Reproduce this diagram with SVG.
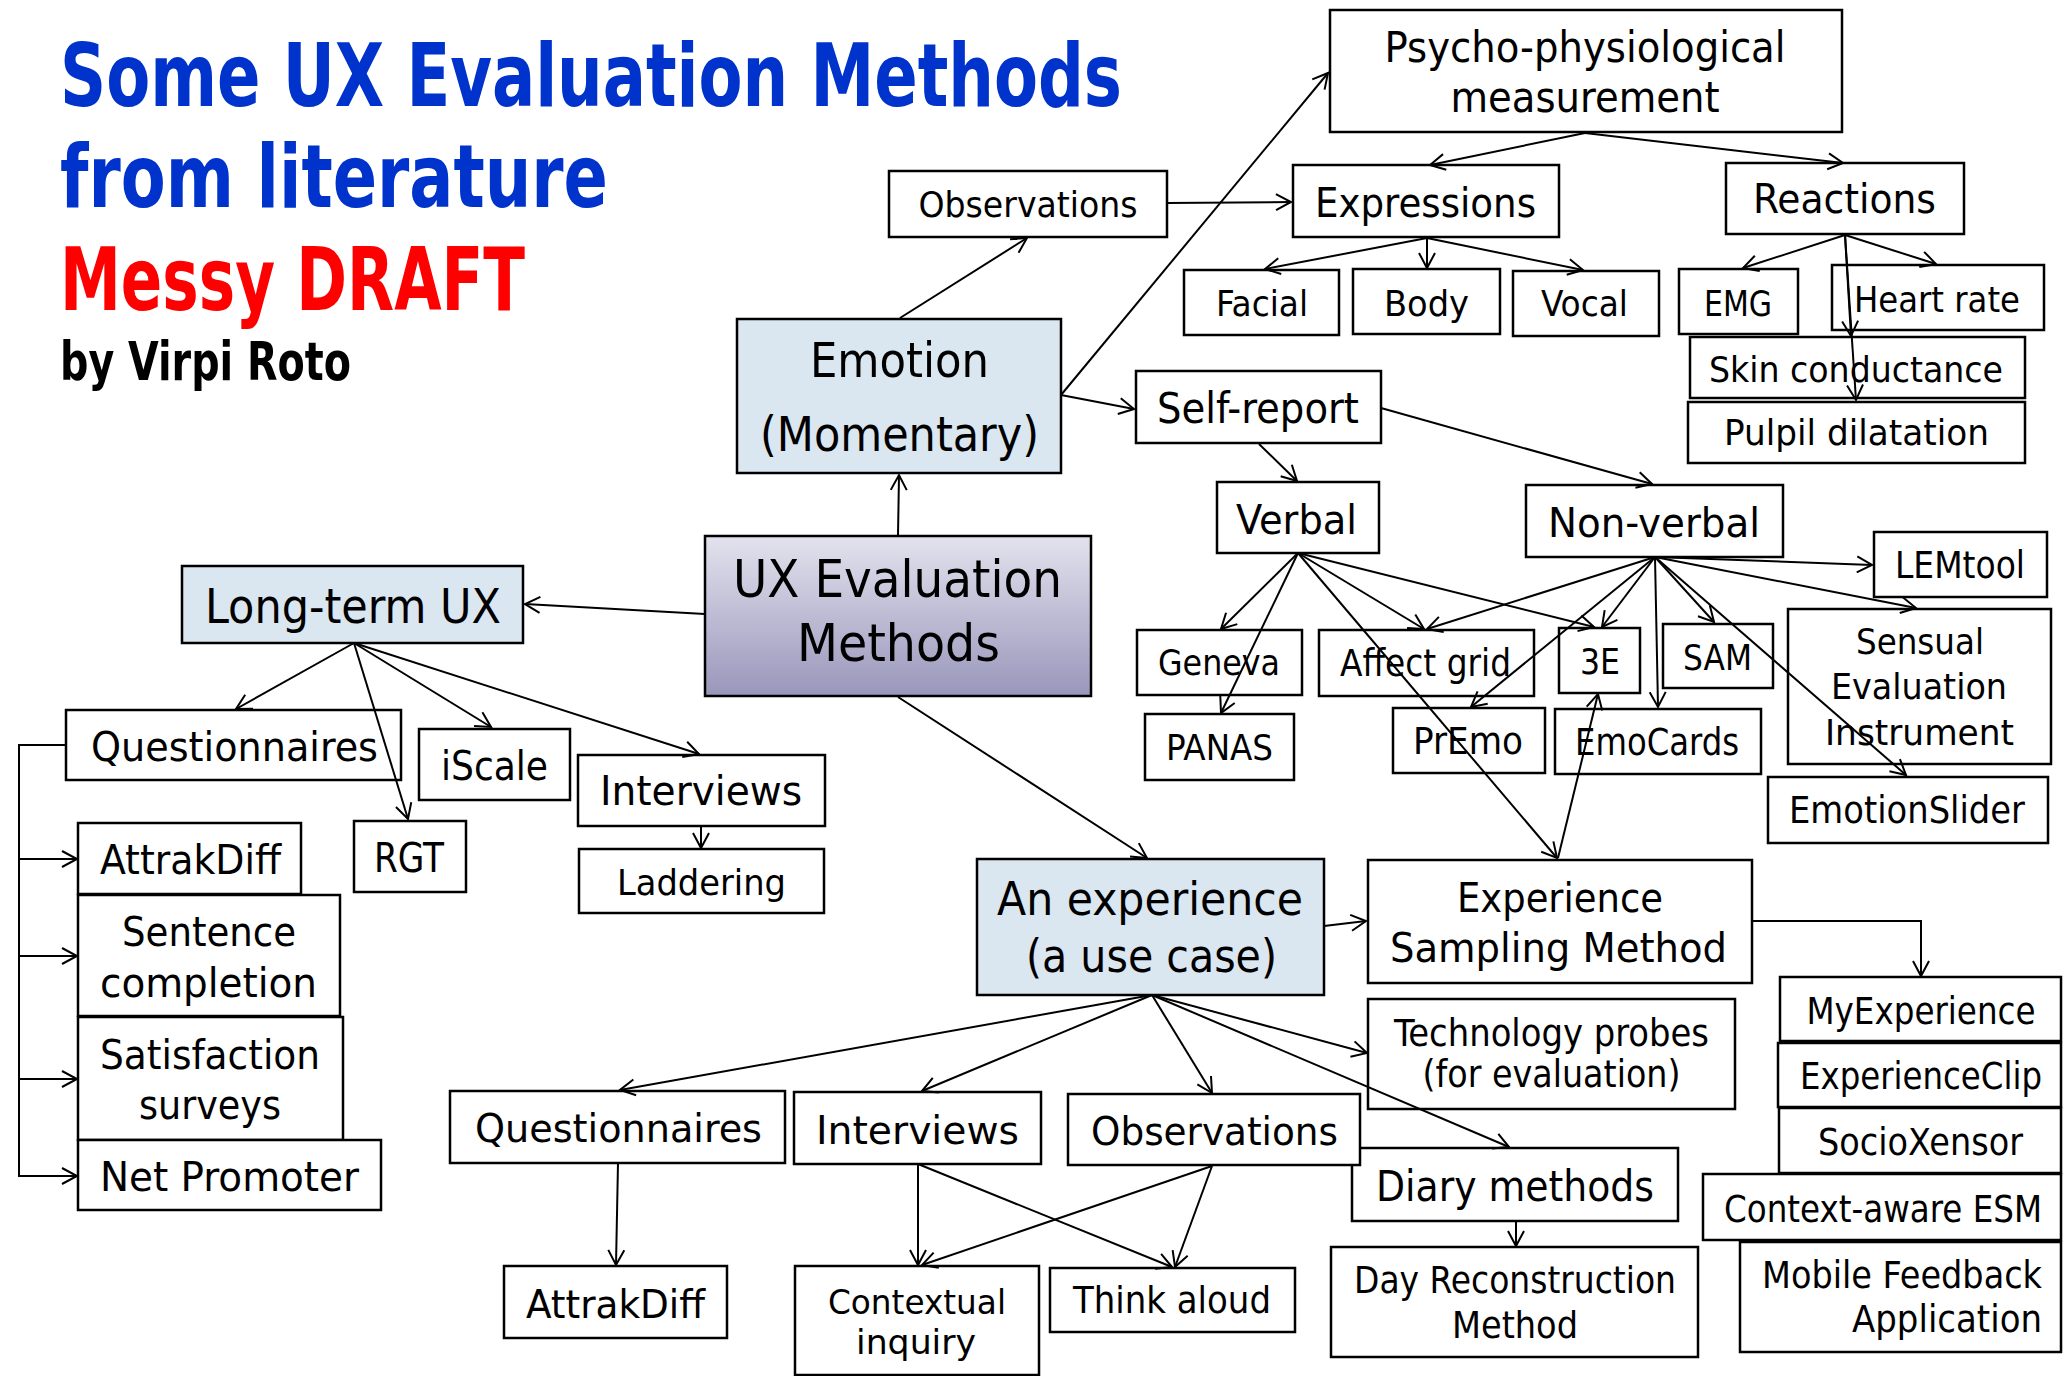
<svg xmlns="http://www.w3.org/2000/svg" width="2063" height="1376" viewBox="0 0 2063 1376">
<style>
rect{fill:#fff;stroke:#000;stroke-width:2.5}
rect.lb{fill:#dae6f0}
text{font-family:"Liberation Sans Narrow","DejaVu Sans Condensed","Liberation Sans",sans-serif;fill:#000;text-anchor:middle}
text.h{font-weight:bold;text-anchor:start}
#connectors path{fill:none;stroke:#000;stroke-width:2;marker-end:url(#ar)}
</style>
<defs>
<marker id="ar" markerUnits="userSpaceOnUse" markerWidth="26" markerHeight="26" viewBox="-20 -13 26 26" refX="0" refY="0" orient="auto" overflow="visible">
<path d="M-15,-8 L0,0 L-15,8" fill="none" stroke="#000" stroke-width="2"/>
</marker>
<linearGradient id="g" x1="0" y1="0" x2="0" y2="1">
<stop offset="0" stop-color="#e3e2ed"/>
<stop offset="1" stop-color="#9996bb"/>
</linearGradient>
</defs>
<rect x="0" y="0" width="2063" height="1376" style="fill:#fff;stroke:none"/>
<g id="title">
<text class="h" x="60" y="106" font-size="88" style="fill:#0033cc" textLength="1062" lengthAdjust="spacingAndGlyphs">Some UX Evaluation Methods</text>
<text class="h" x="60" y="207" font-size="88" style="fill:#0033cc" textLength="548" lengthAdjust="spacingAndGlyphs">from literature</text>
<text class="h" x="60" y="310" font-size="88" style="fill:#ff0000" textLength="465" lengthAdjust="spacingAndGlyphs">Messy DRAFT</text>
<text class="h" x="60" y="380" font-size="54" textLength="291" lengthAdjust="spacingAndGlyphs">by Virpi Roto</text>
</g>
<g id="psycho"><rect x="1330" y="10" width="512" height="122"/><text x="1585" y="62" font-size="42" textLength="401" lengthAdjust="spacingAndGlyphs">Psycho-physiological</text><text x="1585" y="112" font-size="42" textLength="269" lengthAdjust="spacingAndGlyphs">measurement</text></g>
<g id="obsTop"><rect x="889" y="171" width="278" height="66"/><text x="1028" y="217" font-size="35" textLength="219" lengthAdjust="spacingAndGlyphs">Observations</text></g>
<g id="expressions"><rect x="1293" y="165" width="266" height="72"/><text x="1425.5" y="217" font-size="41" textLength="221" lengthAdjust="spacingAndGlyphs">Expressions</text></g>
<g id="reactions"><rect x="1726" y="163" width="238" height="71"/><text x="1844.5" y="213" font-size="41" textLength="183" lengthAdjust="spacingAndGlyphs">Reactions</text></g>
<g id="facial"><rect x="1184" y="270" width="155" height="65"/><text x="1262" y="316" font-size="36" textLength="92" lengthAdjust="spacingAndGlyphs">Facial</text></g>
<g id="body"><rect x="1353" y="269" width="147" height="65"/><text x="1426.5" y="316" font-size="36" textLength="85" lengthAdjust="spacingAndGlyphs">Body</text></g>
<g id="vocal"><rect x="1513" y="271" width="146" height="65"/><text x="1584.5" y="316" font-size="36" textLength="87" lengthAdjust="spacingAndGlyphs">Vocal</text></g>
<g id="emg"><rect x="1679" y="269" width="119" height="65"/><text x="1738" y="316" font-size="36" textLength="68" lengthAdjust="spacingAndGlyphs">EMG</text></g>
<g id="heartrate"><rect x="1832" y="265" width="212" height="65"/><text x="1937" y="312" font-size="36" textLength="166" lengthAdjust="spacingAndGlyphs">Heart rate</text></g>
<g id="skin"><rect x="1690" y="337" width="335" height="61"/><text x="1856" y="382" font-size="36" textLength="294" lengthAdjust="spacingAndGlyphs">Skin conductance</text></g>
<g id="pulpil"><rect x="1688" y="402" width="337" height="61"/><text x="1856.5" y="445" font-size="36" textLength="265" lengthAdjust="spacingAndGlyphs">Pulpil dilatation</text></g>
<g id="selfreport"><rect x="1136" y="371" width="245" height="72"/><text x="1258" y="423" font-size="42" textLength="202" lengthAdjust="spacingAndGlyphs">Self-report</text></g>
<g id="emotion"><rect class="lb" x="737" y="319" width="324" height="154"/><text x="899.5" y="377" font-size="48" textLength="179" lengthAdjust="spacingAndGlyphs">Emotion</text><text x="899.5" y="451" font-size="48" textLength="279" lengthAdjust="spacingAndGlyphs">(Momentary)</text></g>
<g id="uxeval"><rect x="705" y="536" width="386" height="160" style="fill:url(#g)"/><text x="897.5" y="597" font-size="52" textLength="329" lengthAdjust="spacingAndGlyphs">UX Evaluation</text><text x="898.5" y="661" font-size="52" textLength="203" lengthAdjust="spacingAndGlyphs">Methods</text></g>
<g id="verbal"><rect x="1217" y="482" width="162" height="71"/><text x="1296.5" y="534" font-size="40" textLength="121" lengthAdjust="spacingAndGlyphs">Verbal</text></g>
<g id="geneva"><rect x="1137" y="630" width="165" height="65"/><text x="1219" y="675" font-size="36" textLength="122" lengthAdjust="spacingAndGlyphs">Geneva</text></g>
<g id="panas"><rect x="1145" y="714" width="149" height="66"/><text x="1219.5" y="760" font-size="36" textLength="107" lengthAdjust="spacingAndGlyphs">PANAS</text></g>
<g id="longterm"><rect class="lb" x="182" y="566" width="341" height="77"/><text x="353" y="623" font-size="48" textLength="296" lengthAdjust="spacingAndGlyphs">Long-term UX</text></g>
<g id="qLeft"><rect x="66" y="710" width="335" height="70"/><text x="234.5" y="761" font-size="41" textLength="287" lengthAdjust="spacingAndGlyphs">Questionnaires</text></g>
<g id="iscale"><rect x="419" y="729" width="151" height="71"/><text x="494.5" y="780" font-size="40" textLength="107" lengthAdjust="spacingAndGlyphs">iScale</text></g>
<g id="intTop"><rect x="578" y="755" width="247" height="71"/><text x="701" y="805" font-size="40" textLength="202" lengthAdjust="spacingAndGlyphs">Interviews</text></g>
<g id="laddering"><rect x="579" y="849" width="245" height="64"/><text x="701.5" y="895" font-size="35" textLength="169" lengthAdjust="spacingAndGlyphs">Laddering</text></g>
<g id="rgt"><rect x="354" y="821" width="112" height="71"/><text x="409" y="872" font-size="41" textLength="70" lengthAdjust="spacingAndGlyphs">RGT</text></g>
<g id="attrakLeft"><rect x="78" y="823" width="223" height="71"/><text x="190.5" y="874" font-size="40" textLength="181" lengthAdjust="spacingAndGlyphs">AttrakDiff</text></g>
<g id="sentence"><rect x="78" y="895" width="262" height="121"/><text x="209" y="946" font-size="40" textLength="174" lengthAdjust="spacingAndGlyphs">Sentence</text><text x="208.5" y="997" font-size="40" textLength="217" lengthAdjust="spacingAndGlyphs">completion</text></g>
<g id="satisfaction"><rect x="78" y="1017" width="265" height="123"/><text x="210" y="1069" font-size="40" textLength="220" lengthAdjust="spacingAndGlyphs">Satisfaction</text><text x="210" y="1119" font-size="40" textLength="142" lengthAdjust="spacingAndGlyphs">surveys</text></g>
<g id="netpromoter"><rect x="78" y="1140" width="303" height="70"/><text x="229.5" y="1191" font-size="41" textLength="259" lengthAdjust="spacingAndGlyphs">Net Promoter</text></g>
<g id="nonverbal"><rect x="1526" y="485" width="257" height="72"/><text x="1654" y="537" font-size="40" textLength="212" lengthAdjust="spacingAndGlyphs">Non-verbal</text></g>
<g id="lemtool"><rect x="1874" y="532" width="173" height="65"/><text x="1960" y="578" font-size="37" textLength="130" lengthAdjust="spacingAndGlyphs">LEMtool</text></g>
<g id="sensual"><rect x="1788" y="609" width="263" height="155"/><text x="1920" y="654" font-size="36" textLength="128" lengthAdjust="spacingAndGlyphs">Sensual</text><text x="1919" y="699" font-size="36" textLength="176" lengthAdjust="spacingAndGlyphs">Evaluation</text><text x="1919.5" y="745" font-size="36" textLength="189" lengthAdjust="spacingAndGlyphs">Instrument</text></g>
<g id="emotionslider"><rect x="1768" y="777" width="280" height="66"/><text x="1907" y="823" font-size="37" textLength="236" lengthAdjust="spacingAndGlyphs">EmotionSlider</text></g>
<g id="sam"><rect x="1663" y="624" width="110" height="64"/><text x="1717.5" y="670" font-size="36" textLength="69" lengthAdjust="spacingAndGlyphs">SAM</text></g>
<g id="e3"><rect x="1559" y="628" width="81" height="65"/><text x="1600" y="674" font-size="36" textLength="40" lengthAdjust="spacingAndGlyphs">3E</text></g>
<g id="affectgrid"><rect x="1319" y="630" width="215" height="66"/><text x="1425.5" y="676" font-size="37" textLength="171" lengthAdjust="spacingAndGlyphs">Affect grid</text></g>
<g id="premo"><rect x="1393" y="708" width="152" height="65"/><text x="1468" y="754" font-size="37" textLength="110" lengthAdjust="spacingAndGlyphs">PrEmo</text></g>
<g id="emocards"><rect x="1555" y="709" width="206" height="65"/><text x="1657" y="755" font-size="37" textLength="164" lengthAdjust="spacingAndGlyphs">EmoCards</text></g>
<g id="esm"><rect x="1368" y="860" width="384" height="123"/><text x="1560" y="912" font-size="40" textLength="206" lengthAdjust="spacingAndGlyphs">Experience</text><text x="1558.5" y="962" font-size="40" textLength="337" lengthAdjust="spacingAndGlyphs">Sampling Method</text></g>
<g id="techprobes"><rect x="1368" y="999" width="367" height="110"/><text x="1551.5" y="1046" font-size="37" textLength="315" lengthAdjust="spacingAndGlyphs">Technology probes</text><text x="1551.5" y="1087" font-size="37" textLength="258" lengthAdjust="spacingAndGlyphs">(for evaluation)</text></g>
<g id="diary"><rect x="1352" y="1148" width="326" height="73"/><text x="1515" y="1201" font-size="42" textLength="278" lengthAdjust="spacingAndGlyphs">Diary methods</text></g>
<g id="drm"><rect x="1331" y="1247" width="367" height="110"/><text x="1515" y="1293" font-size="38" textLength="322" lengthAdjust="spacingAndGlyphs">Day Reconstruction</text><text x="1515" y="1338" font-size="38" textLength="126" lengthAdjust="spacingAndGlyphs">Method</text></g>
<g id="myexperience"><rect x="1780" y="977" width="281" height="64"/><text x="1921" y="1024" font-size="37" textLength="229" lengthAdjust="spacingAndGlyphs">MyExperience</text></g>
<g id="experienceclip"><rect x="1778" y="1043" width="283" height="64"/><text x="1921" y="1089" font-size="37" textLength="242" lengthAdjust="spacingAndGlyphs">ExperienceClip</text></g>
<g id="socioxensor"><rect x="1779" y="1108" width="282" height="65"/><text x="1920.5" y="1155" font-size="37" textLength="205" lengthAdjust="spacingAndGlyphs">SocioXensor</text></g>
<g id="contextesm"><rect x="1703" y="1174" width="358" height="66"/><text x="1883" y="1222" font-size="37" textLength="318" lengthAdjust="spacingAndGlyphs">Context-aware ESM</text></g>
<g id="mobilefeedback"><rect x="1740" y="1242" width="321" height="110"/><text x="2042" y="1288" font-size="37" style="text-anchor:end" textLength="280" lengthAdjust="spacingAndGlyphs">Mobile Feedback</text><text x="2042" y="1332" font-size="37" style="text-anchor:end" textLength="190" lengthAdjust="spacingAndGlyphs">Application</text></g>
<g id="anexperience"><rect class="lb" x="977" y="859" width="347" height="136"/><text x="1150" y="915" font-size="46" textLength="306" lengthAdjust="spacingAndGlyphs">An experience</text><text x="1151.5" y="972" font-size="46" textLength="251" lengthAdjust="spacingAndGlyphs">(a use case)</text></g>
<g id="qBottom"><rect x="450" y="1091" width="335" height="72"/><text x="618.5" y="1142" font-size="39" textLength="287" lengthAdjust="spacingAndGlyphs">Questionnaires</text></g>
<g id="intBottom"><rect x="794" y="1092" width="247" height="72"/><text x="917.5" y="1144" font-size="39" textLength="203" lengthAdjust="spacingAndGlyphs">Interviews</text></g>
<g id="obsBottom"><rect x="1068" y="1094" width="292" height="71"/><text x="1214.5" y="1145" font-size="39" textLength="247" lengthAdjust="spacingAndGlyphs">Observations</text></g>
<g id="attrakBottom"><rect x="504" y="1266" width="223" height="72"/><text x="615.5" y="1318" font-size="39" textLength="179" lengthAdjust="spacingAndGlyphs">AttrakDiff</text></g>
<g id="contextual"><rect x="795" y="1266" width="244" height="109"/><text x="917" y="1314" font-size="34" textLength="178" lengthAdjust="spacingAndGlyphs">Contextual</text><text x="916" y="1354" font-size="34" textLength="120" lengthAdjust="spacingAndGlyphs">inquiry</text></g>
<g id="thinkaloud"><rect x="1050" y="1268" width="245" height="64"/><text x="1172" y="1313" font-size="38" textLength="198" lengthAdjust="spacingAndGlyphs">Think aloud</text></g>
<g id="connectors">
<path d="M898,536 L899,475"/>
<path d="M705,614 L525,604"/>
<path d="M898,697 L1147,858"/>
<path d="M900,318 L1027,238"/>
<path d="M1061,395 L1328,73"/>
<path d="M1061,395 L1134,409"/>
<path d="M1167,203 L1291,202"/>
<path d="M1585,133 L1430,165"/>
<path d="M1585,133 L1843,163"/>
<path d="M1427,238 L1265,269"/>
<path d="M1427,238 L1427,268"/>
<path d="M1427,238 L1583,270"/>
<path d="M1845,235 L1743,268"/>
<path d="M1845,235 L1936,264"/>
<path d="M1845,235 L1851,336"/>
<path d="M1845,235 L1856,400"/>
<path d="M1259,444 L1297,481"/>
<path d="M1381,408 L1652,484"/>
<path d="M1298,553 L1221,629"/>
<path d="M1298,553 L1221,713"/>
<path d="M1298,553 L1424,629"/>
<path d="M1298,553 L1594,627"/>
<path d="M1298,553 L1557,858"/>
<path d="M1655,557 L1872,565"/>
<path d="M1655,557 L1916,608"/>
<path d="M1655,557 L1906,775"/>
<path d="M1655,557 L1714,622"/>
<path d="M1655,557 L1658,707"/>
<path d="M1655,557 L1602,627"/>
<path d="M1655,557 L1471,707"/>
<path d="M1655,557 L1427,629"/>
<path d="M1558,858 L1598,694"/>
<path d="M1324,926 L1366,921"/>
<path d="M1152,995 L620,1090"/>
<path d="M1152,995 L922,1091"/>
<path d="M1152,995 L1212,1093"/>
<path d="M1152,995 L1367,1053"/>
<path d="M1152,995 L1509,1147"/>
<path d="M618,1163 L616,1265"/>
<path d="M918,1164 L918,1265"/>
<path d="M918,1164 L1172,1267"/>
<path d="M1212,1166 L922,1265"/>
<path d="M1212,1166 L1175,1267"/>
<path d="M1516,1221 L1516,1246"/>
<path d="M1752,921 L1921,921 L1921,976"/>
<path d="M354,643 L236,709"/>
<path d="M354,643 L408,819"/>
<path d="M354,643 L491,727"/>
<path d="M354,643 L699,754"/>
<path d="M701,826 L701,848"/>
<path d="M66,745 L19,745 L19,1176 L77,1176"/>
<path d="M19,859 L77,859"/>
<path d="M19,956 L77,956"/>
<path d="M19,1079 L77,1079"/>
</g>
</svg>
